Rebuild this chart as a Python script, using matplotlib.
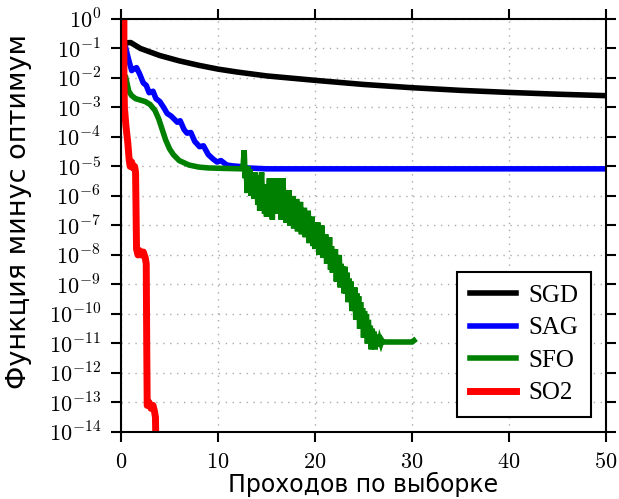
import matplotlib
matplotlib.use("Agg")
import matplotlib.pyplot as plt
import numpy as np

# Данные (x — проходы, y — log10 ошибки)
sgd_x = [0.5, 1.0, 1.5, 2, 3, 4, 5, 6, 8, 10, 12, 15, 20, 25, 30, 35, 40, 45, 50]
sgd_log = [-0.81, -0.8, -0.9, -1.0, -1.12, -1.24, -1.33, -1.42, -1.57, -1.7,
           -1.8, -1.93, -2.08, -2.22, -2.33, -2.42, -2.49, -2.55, -2.6]

sag_x = [0.5, 0.8, 1.1, 1.3, 1.6, 1.9, 2.3, 2.6, 2.9, 3.3, 3.6, 4.0, 4.4, 4.75,
         5.2, 5.8, 6.1, 6.5, 6.8, 7.2, 7.6, 8.1, 8.5, 9.0, 9.5, 9.9, 10.3,
         10.9, 11.5, 12.25, 13, 15, 50]
sag_log = [-1.0, -1.4, -1.75, -1.7, -1.65, -1.85, -2.17, -2.25, -2.5, -2.45,
           -2.7, -2.8, -3.0, -3.2, -3.3, -3.5, -3.45, -3.75, -3.87, -3.85,
           -4.15, -4.33, -4.3, -4.6, -4.75, -4.85, -4.8, -4.95, -4.98, -5.0,
           -5.05, -5.08, -5.08]

# SFO: гладкое начало
sfo_head_x = [0.5, 0.8, 1.1, 1.5, 2.0, 2.5, 3.0, 3.5, 3.9, 4.2, 4.6, 5.0, 5.4,
              6.0, 7.0, 8.0, 9.0, 10.0, 12.4]
sfo_head_log = [-2.0, -2.45, -2.6, -2.7, -2.75, -2.8, -2.9, -3.1, -3.4, -3.7,
                -4.1, -4.4, -4.6, -4.8, -4.95, -5.02, -5.05, -5.06, -5.08]
# SFO: шумный участок, шаг 0.1 от 12.5 до 27.0
sfo_noisy_log = [
    -5.08, -4.9, -4.45, -5.4, -5.0,
    -5.9, -5.0, -5.6, -5.1, -6.0, -5.3, -5.5, -6.1, -5.2, -5.8,
    -5.3, -6.3, -5.6, -6.5, -5.5, -5.2, -6.4, -5.7, -6.6, -5.8,
    -6.7, -5.6, -6.2, -5.4, -6.5, -5.6, -6.8, -5.7, -6.3, -5.4,
    -6.3, -5.4, -6.6, -5.7, -5.4, -6.8, -5.8, -5.4, -6.5, -5.9,
    -6.9, -5.9, -6.6, -5.8, -7.0, -6.1, -6.7, -6.0, -7.1, -6.3,
    -6.9, -6.1, -7.2, -6.3, -7.0, -6.2, -7.3, -6.5, -7.1, -6.4,
    -7.4, -6.6, -7.3, -6.5, -7.6, -6.8, -7.4, -6.7, -7.7, -6.9,
    -7.8, -6.9, -7.7, -6.9, -8.0, -7.2, -7.8, -7.0, -8.1, -7.3,
    -8.1, -7.3, -8.3, -7.4, -8.2, -7.4, -8.5, -7.7, -8.6, -7.8,
    -8.6, -7.8, -8.9, -8.0, -8.8, -8.0, -9.1, -8.3, -9.0, -8.4,
    -9.3, -8.4, -9.3, -8.6, -9.6, -8.8, -9.5, -8.9, -9.9, -9.1,
    -9.9, -9.1, -10.2, -9.3, -10.1, -9.4, -10.5, -9.6, -10.4, -9.8,
    -10.8, -9.9, -10.6, -10.0, -11.0, -10.2, -10.9, -10.4, -11.2, -10.5,
    -11.0, -10.6, -11.2, -10.7, -11.1, -10.8, -11.1, -10.9, -11.0, -10.9,
    -10.95]
sfo_noisy_x = list(np.round(np.arange(12.5, 27.05, 0.1), 1))
sfo_tail_x = [28.0, 29.0, 30.0, 30.2]
sfo_tail_log = [-10.95, -10.95, -10.95, -10.9]

so2_x = [0.3, 0.3, 0.35, 0.5, 0.7, 0.85, 0.95, 1.1, 1.25, 1.4, 1.5, 1.55, 1.6,
         1.75, 1.9, 2.1, 2.3, 2.5, 2.6, 2.65, 2.7, 2.9, 3.1, 3.3, 3.45, 3.55, 3.6]
so2_log = [0.2, -2.0, -3.0, -3.6, -4.2, -4.8, -5.0, -4.85, -5.05, -5.0, -5.2,
           -6.5, -7.8, -8.0, -7.85, -8.0, -7.9, -8.1, -8.3, -11.0, -13.1,
           -13.0, -13.2, -13.1, -13.3, -13.5, -14.5]

sfo_x = sfo_head_x + sfo_noisy_x + sfo_tail_x
sfo_log = sfo_head_log + sfo_noisy_log + sfo_tail_log

plt.rcParams['mathtext.fontset'] = 'cm'

fig = plt.figure(figsize=(6.19, 4.99), dpi=100)
ax = fig.add_axes([0.1955, 0.1343, 0.7835, 0.8277])

lw = 4
ax.plot(sgd_x, 10.0 ** np.array(sgd_log), color='black', lw=lw, label='SGD')
ax.plot(sag_x, 10.0 ** np.array(sag_log), color='blue', lw=lw, label='SAG')
ax.plot(sfo_x, 10.0 ** np.array(sfo_log), color='green', lw=lw, label='SFO',
        solid_joinstyle='miter')
ax.plot(so2_x, 10.0 ** np.array(so2_log), color='red', lw=5, label='SO2')

ax.set_yscale('log')
ax.set_xlim(0, 50)
ax.set_ylim(1e-14, 1e0)
ax.set_yticks([10.0 ** -k for k in range(15)])
ax.set_yticklabels([r'$10^{%d}$' % (-k) for k in range(15)])
ax.yaxis.set_minor_locator(matplotlib.ticker.NullLocator())
ax.set_xticks([0, 10, 20, 30, 40, 50])
ax.set_xticklabels([r'$%d$' % v for v in [0, 10, 20, 30, 40, 50]])

ax.tick_params(axis='both', which='major', direction='out', length=7.5,
               width=1.5, labelsize=16, top=True, right=True, pad=7)
for s in ax.spines.values():
    s.set_linewidth(1.5)
ax.grid(True, linestyle=(0, (1, 4)), color='#aaaaaa', lw=1)

ax.set_xlabel('Проходов по выборке', fontsize=17, labelpad=0)
ax.set_ylabel('Функция минус оптимум', fontsize=19.5)
ax.yaxis.set_label_coords(-0.184, 0.535)

leg = ax.legend(loc='lower right', handlelength=1.85, handletextpad=0.5,
                prop={'family': 'Liberation Serif', 'size': 18},
                fancybox=False, edgecolor='black', framealpha=1,
                borderaxespad=0.6, labelspacing=0.4, borderpad=0.5)
leg.get_frame().set_linewidth(1.5)

fig.savefig('out.png', dpi=100)
